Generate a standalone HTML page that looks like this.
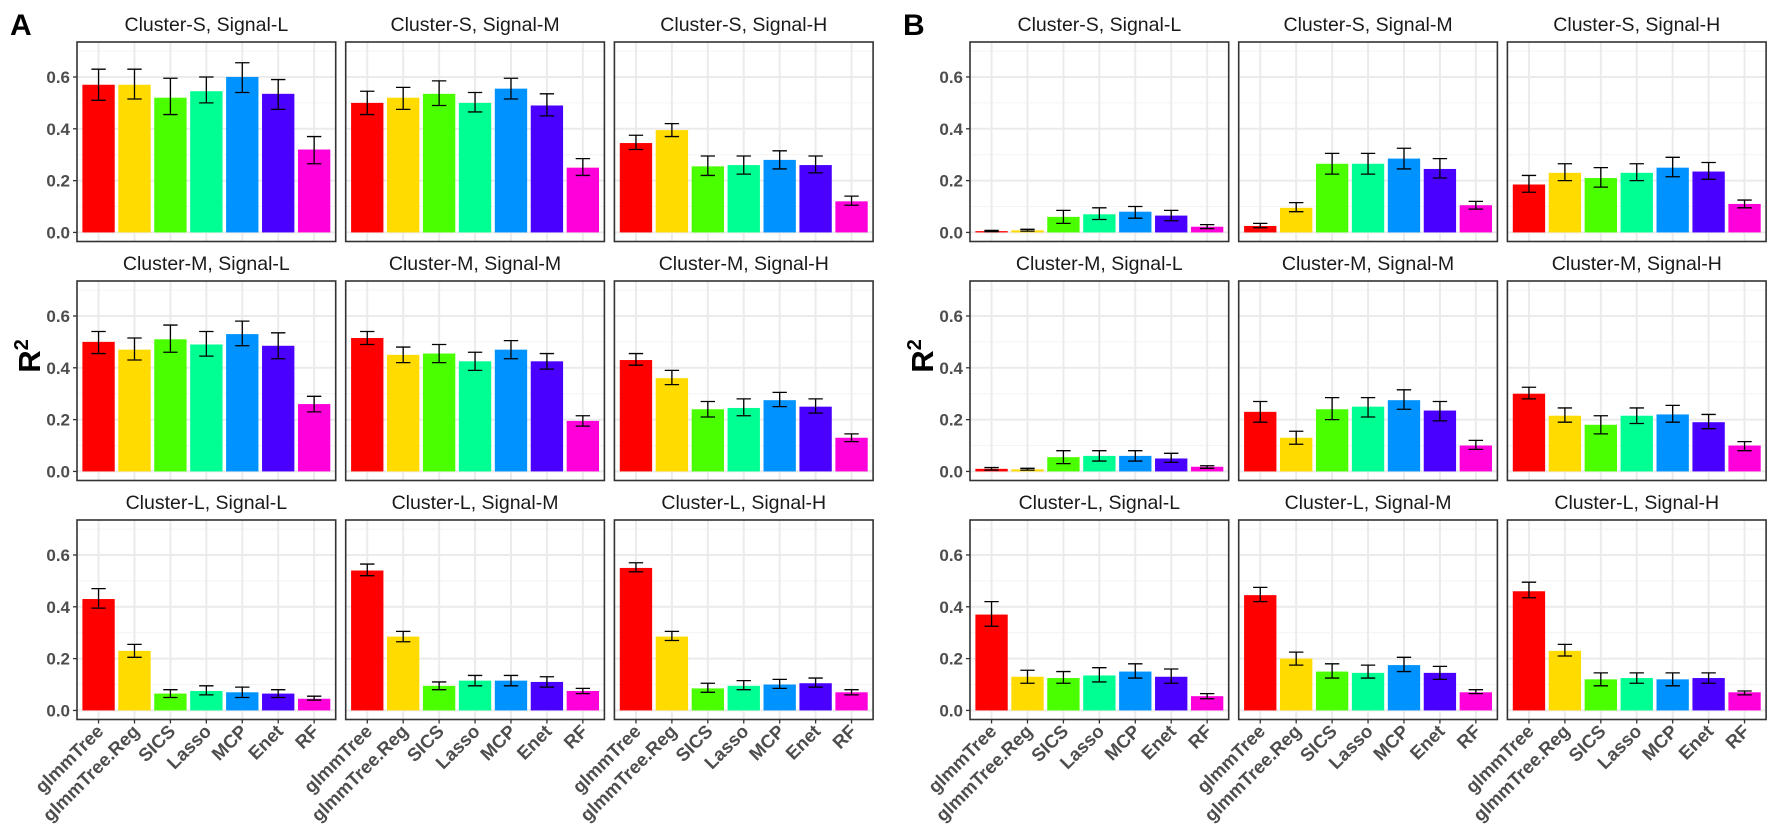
<!DOCTYPE html>
<html><head><meta charset="utf-8"><style>
body{margin:0;background:#fff;}
svg{display:block;font-family:"Liberation Sans",Arial,sans-serif;}
</style></head><body>
<svg id="chart" width="1772" height="837" viewBox="0 0 1772 837"></svg>
<script>
const methods=["glmmTree","glmmTree.Reg","SICS","Lasso","MCP","Enet","RF"];
const colors=["#FF0000","#FFDB00","#49FF00","#00FF92","#0092FF","#4900FF","#FF00DB"];
const yTicks=[0,0.2,0.4,0.6];
const yTickLabels=["0.0","0.2","0.4","0.6"];
const panelTitles=["Cluster-S, Signal-L","Cluster-S, Signal-M","Cluster-S, Signal-H","Cluster-M, Signal-L","Cluster-M, Signal-M","Cluster-M, Signal-H","Cluster-L, Signal-L","Cluster-L, Signal-M","Cluster-L, Signal-H"];
const meanA=[
[.57,.57,.52,.545,.60,.535,.32],[.50,.52,.535,.50,.555,.49,.25],[.345,.395,.255,.26,.28,.26,.12],
[.50,.47,.51,.49,.53,.485,.26],[.515,.45,.455,.425,.47,.425,.195],[.43,.36,.24,.245,.275,.25,.13],
[.43,.23,.065,.075,.07,.065,.045],[.54,.285,.095,.115,.115,.11,.075],[.55,.285,.085,.095,.10,.105,.07]];
const lowA=[
[.51,.515,.455,.5,.54,.475,.265],[.455,.475,.49,.465,.515,.45,.22],[.32,.37,.22,.225,.245,.23,.105],
[.455,.43,.46,.445,.485,.435,.23],[.49,.42,.42,.39,.435,.395,.175],[.41,.335,.21,.215,.25,.225,.115],
[.395,.205,.05,.06,.05,.05,.04],[.52,.265,.08,.095,.095,.09,.065],[.535,.27,.07,.08,.085,.09,.06]];
const highA=[
[.63,.63,.595,.6,.655,.59,.37],[.545,.56,.585,.54,.595,.535,.285],[.375,.42,.295,.295,.315,.295,.14],
[.54,.515,.565,.54,.58,.535,.29],[.54,.48,.49,.46,.505,.455,.215],[.455,.39,.27,.28,.305,.28,.145],
[.47,.255,.08,.095,.09,.08,.055],[.565,.305,.11,.135,.135,.13,.085],[.57,.305,.105,.115,.12,.125,.08]];
const meanB=[
[.005,.008,.06,.07,.08,.065,.022],[.025,.095,.265,.265,.285,.245,.105],[.185,.23,.21,.23,.25,.235,.11],
[.01,.008,.055,.06,.06,.05,.018],[.23,.13,.24,.25,.275,.235,.10],[.30,.215,.18,.215,.22,.19,.10],
[.37,.13,.125,.135,.15,.13,.055],[.445,.20,.15,.145,.175,.145,.07],[.46,.23,.12,.125,.12,.125,.07]];
const lowB=[
[.003,.005,.035,.05,.055,.045,.015],[.018,.08,.225,.225,.245,.21,.09],[.155,.20,.175,.20,.215,.205,.095],
[.005,.005,.03,.04,.04,.035,.012],[.19,.105,.20,.21,.24,.195,.085],[.28,.19,.145,.185,.19,.165,.08],
[.325,.105,.105,.11,.125,.105,.045],[.42,.175,.125,.125,.15,.12,.065],[.435,.21,.095,.105,.095,.105,.06]];
const highB=[
[.008,.012,.085,.095,.10,.085,.03],[.035,.115,.305,.305,.325,.285,.12],[.22,.265,.25,.265,.29,.27,.125],
[.015,.012,.08,.08,.08,.07,.022],[.27,.155,.285,.285,.315,.27,.12],[.325,.245,.215,.245,.255,.22,.115],
[.42,.155,.15,.165,.18,.16,.065],[.475,.225,.18,.175,.205,.17,.08],[.495,.255,.145,.145,.145,.145,.075]];

const NS="http://www.w3.org/2000/svg";
const svg=document.getElementById('chart');
function mk(tag,attrs,parent){const e=document.createElementNS(NS,tag);for(const k in attrs)e.setAttribute(k,attrs[k]);(parent||svg).appendChild(e);return e;}
const PW=258.7,GAP=10,PH=199.5;
const rowTop=[42,281,520];
const YMIN=-0.035,YMAX=0.735;
function drawFigure(offX,letter,mean,low,high,fig){
  const g=mk('g',{});
  
  
  const L=mk('text',{x:offX+10,y:35,'font-size':30,'font-weight':'bold',fill:'#000'},g);
  L.textContent=letter;
  
  
  const yt=mk('text',{transform:`translate(${offX+40},356) rotate(-90)`,'text-anchor':'middle','font-size':31,'font-weight':'bold',fill:'#000'},g);
  yt.innerHTML='R<tspan dy="-12" font-size="20">2</tspan>';
  
  
  for(let p=0;p<9;p++){
    const r=Math.floor(p/3),c=p%3;
    const x0=offX+77+c*(PW+GAP),y0=rowTop[r];
    const pg=mk('g',{},g);
    
    
    const ys=v=>y0+PH-(v-YMIN)/(YMAX-YMIN)*PH;
    const xs=i=>x0+(i+1-0.4)/7.2*PW;
    mk('rect',{x:x0,y:y0,width:PW,height:PH,fill:'#fff'},pg);
    [0.1,0.3,0.5,0.7].forEach(v=>mk('line',{x1:x0,x2:x0+PW,y1:ys(v),y2:ys(v),stroke:'#F4F4F4','stroke-width':1},pg));
    yTicks.forEach(v=>mk('line',{x1:x0,x2:x0+PW,y1:ys(v),y2:ys(v),stroke:'#EBEBEB','stroke-width':2},pg));
    methods.forEach((m,i)=>mk('line',{x1:xs(i),x2:xs(i),y1:y0,y2:y0+PH,stroke:'#EBEBEB','stroke-width':2},pg));
    methods.forEach((m,i)=>{
      const bw=0.9/7.2*PW;
      const b=mk('rect',{x:xs(i)-bw/2,y:ys(mean[p][i]),width:bw,height:ys(0)-ys(mean[p][i]),fill:colors[i]},pg);
      
      
      const cw=0.2/7.2*PW;
      const eb=mk('path',{d:`M${xs(i)-cw},${ys(high[p][i])}H${xs(i)+cw}M${xs(i)},${ys(high[p][i])}V${ys(low[p][i])}M${xs(i)-cw},${ys(low[p][i])}H${xs(i)+cw}`,stroke:'#000','stroke-width':1.3,fill:'none'},pg);
      
      
    });
    mk('rect',{x:x0,y:y0,width:PW,height:PH,fill:'none',stroke:'#333','stroke-width':1.6},pg);
    const st=mk('text',{x:x0+PW/2,y:y0-11,'text-anchor':'middle','font-size':19.5,fill:'#1a1a1a'},pg);
    st.textContent=panelTitles[p];
    
    
    if(c===0){
      yTicks.forEach((v,k)=>{
        mk('line',{x1:x0-4,x2:x0,y1:ys(v),y2:ys(v),stroke:'#333','stroke-width':1.3},pg);
        const t=mk('text',{x:x0-7,y:ys(v)+6,'text-anchor':'end','font-size':17,'font-weight':'bold',fill:'#4D4D4D'},pg);
        t.textContent=yTickLabels[k];
        
        
      });
    }
    if(r===2){
      methods.forEach((m,i)=>{
        mk('line',{x1:xs(i),x2:xs(i),y1:y0+PH,y2:y0+PH+4,stroke:'#333','stroke-width':1.3},pg);
        const t=mk('text',{transform:`translate(${xs(i)+6},${y0+PH+13}) rotate(-45)`,'text-anchor':'end','font-size':18.5,'font-weight':'bold',fill:'#4D4D4D'},pg);
        t.textContent=m;
        
        
      });
    }
  }
}
drawFigure(0,'A',meanA,lowA,highA,'a');
drawFigure(893,'B',meanB,lowB,highB,'b');
</script>
</body></html>
